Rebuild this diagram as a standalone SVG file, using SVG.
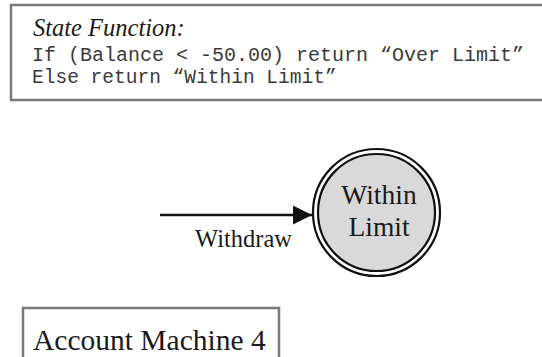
<svg xmlns="http://www.w3.org/2000/svg" width="542" height="357" viewBox="0 0 542 357">
<style>
.serif{font-family:"Liberation Serif","Times New Roman",serif;fill:#1a1a1a}
.mono{font-family:"Liberation Mono","Courier New",monospace;fill:#3a3a3a;font-size:19.5px}
.box{fill:#fff;stroke:#7a7a7a;stroke-width:2.5}
</style>
<defs>
<marker id="ah" markerWidth="20" markerHeight="20" refX="19" refY="9.5" orient="auto" markerUnits="userSpaceOnUse">
<path d="M0,0 L19,9.5 L0,19 Z" fill="#111"/>
</marker>
</defs>
<rect width="542" height="357" fill="#fff"/>
<g id="state-function">
<rect x="11" y="5" width="545" height="95" class="box"/>
<text x="33" y="36" class="serif" font-style="italic" font-size="24.5">State Function:</text>
<text x="32" y="61" class="mono" textLength="492" lengthAdjust="spacingAndGlyphs">If (Balance &lt; -50.00) return “Over Limit”</text>
<text x="32" y="83" class="mono" textLength="304.6" lengthAdjust="spacingAndGlyphs">Else return “Within Limit”</text>
</g>
<g id="connectors">
<line x1="160" y1="215" x2="312" y2="215" stroke="#111" stroke-width="2.5" marker-end="url(#ah)"/>
<text x="195" y="247" class="serif" font-size="24.5">Withdraw</text>
</g>
<g id="within-limit">
<circle cx="376.5" cy="212.5" r="63.5" fill="#fff" stroke="#111" stroke-width="2.2"/>
<circle cx="376.5" cy="212.5" r="58.5" fill="#d9d9d9" stroke="#111" stroke-width="2.2"/>
<text x="379" y="204" class="serif" font-size="27.5" text-anchor="middle">Within</text>
<text x="379" y="236" class="serif" font-size="27.5" text-anchor="middle">Limit</text>
</g>
<g id="account-machine">
<rect x="23" y="308" width="256" height="60" class="box" stroke-width="2"/>
<text x="33" y="350" class="serif" font-size="29.5">Account Machine 4</text>
</g>
</svg>
